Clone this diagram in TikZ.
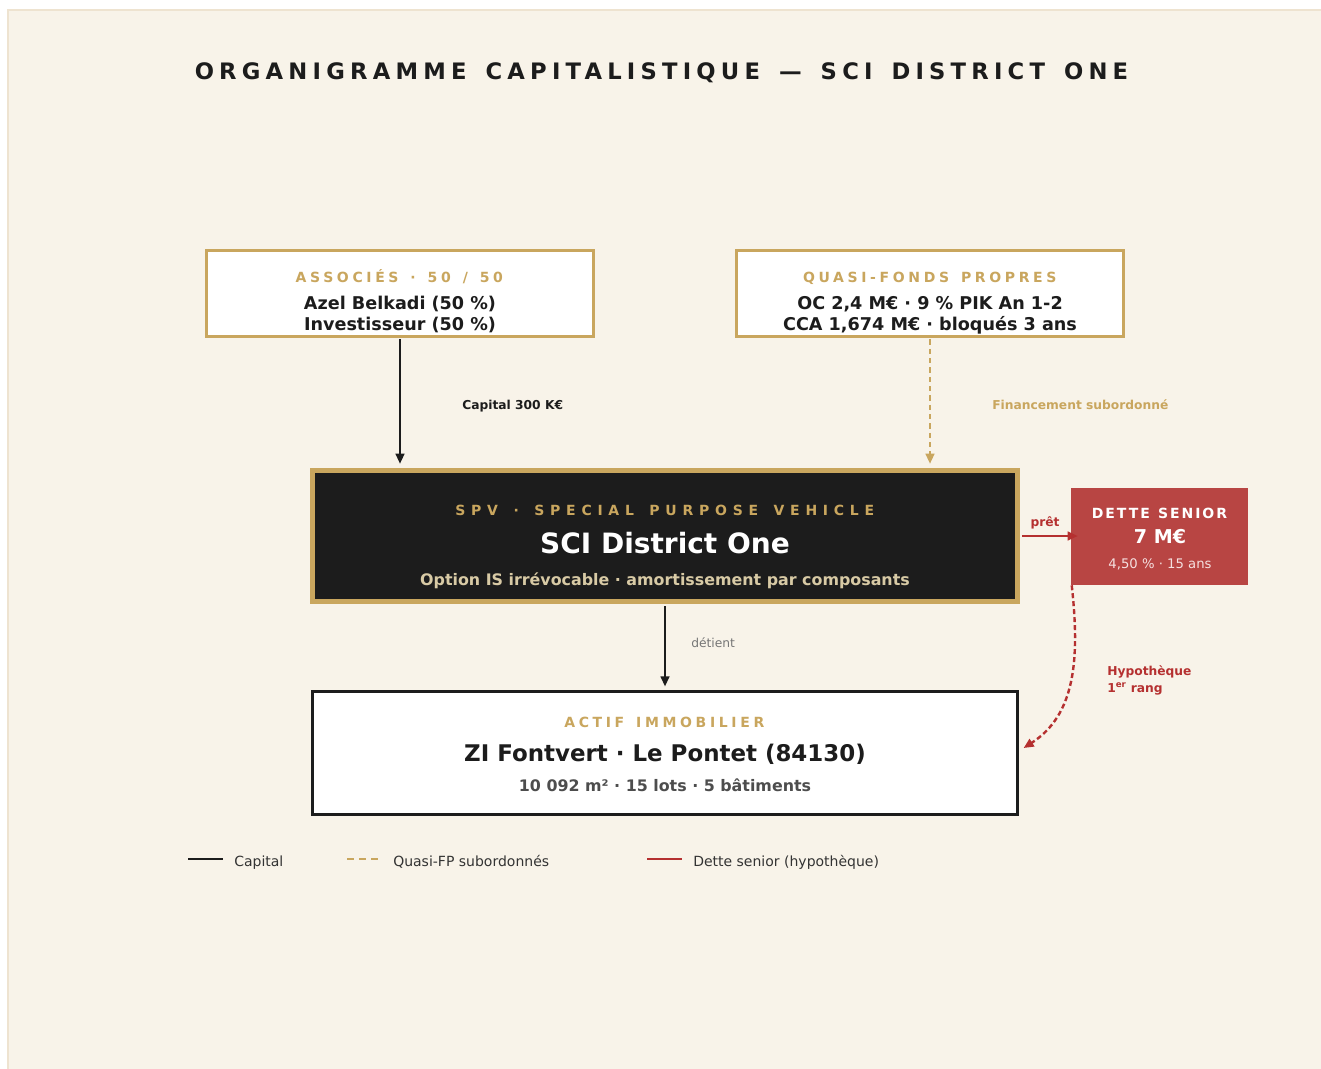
\documentclass[tikz,border=0pt]{standalone}
\usepackage{fontspec}
\setmainfont{DejaVu Sans}
\newfontfamily\titlefont[LetterSpace=23,WordSpace=1.45]{DejaVu Sans}
\newfontfamily\capsfont[LetterSpace=26,WordSpace=1.4]{DejaVu Sans}
\newfontfamily\spvfont[LetterSpace=41,WordSpace=1.46]{DejaVu Sans}
\newfontfamily\debtfont[LetterSpace=14,WordSpace=1.2]{DejaVu Sans}
\usepackage{tikz}
\definecolor{white}{rgb}{1.0, 1.0, 1.0}
\definecolor{ink}{RGB}{28,28,28}
\definecolor{gold}{RGB}{201,166,94}
\definecolor{cream}{RGB}{248,243,233}
\definecolor{creamedge}{RGB}{238,227,208}
\definecolor{debtred}{RGB}{184,69,67}
\definecolor{loanred}{RGB}{181,48,48}
\definecolor{beige}{RGB}{216,202,165}
\definecolor{slate}{RGB}{77,77,77}
\definecolor{mute}{RGB}{118,118,118}
\definecolor{legendink}{RGB}{51,51,51}
\definecolor{debtsoft}{RGB}{245,224,224}
\usetikzlibrary{arrows.meta}
\pgfdeclarelayer{background}
\pgfdeclarelayer{edgelayer}
\pgfdeclarelayer{nodelayer}
\pgfsetlayers{background,nodelayer,edgelayer,main}
\tikzstyle{lightbox}=[rectangle,fill=white,draw=gold,line width=2.25pt,minimum width=290.25pt,minimum height=64.5pt,inner sep=0pt]
\tikzstyle{spvbox}=[rectangle,fill=ink,draw=gold,line width=3.4pt,minimum width=529pt,minimum height=98.6pt,inner sep=0pt]
\tikzstyle{debtbox}=[rectangle,fill=debtred,minimum width=132.75pt,minimum height=72.75pt,inner sep=0pt]
\tikzstyle{assetbox}=[rectangle,fill=white,draw=ink,line width=2.4pt,minimum width=528.75pt,minimum height=92.25pt,inner sep=0pt]
\tikzstyle{txt}=[inner sep=0pt,anchor=base]
\tikzstyle{boxhead}=[txt,text=gold,font=\capsfont\bfseries\fontsize{10.5}{12}\selectfont]
\tikzstyle{boxline}=[txt,text=ink,font=\bfseries\fontsize{13.2}{15}\selectfont]
\tikzstyle{edgelabel}=[inner sep=0pt,anchor=base west,font=\bfseries\fontsize{9.2}{11}\selectfont]
\tikzstyle{legendtext}=[inner sep=0pt,anchor=base west,text=legendink,font=\fontsize{10.5}{12}\selectfont]
\tikzstyle{tip}=[-{Triangle[length=7.5pt,width=6.5pt]}]
\tikzstyle{capital}=[tip,draw=ink,line width=1.5pt]
\tikzstyle{quasi}=[tip,draw=gold,line width=1.5pt,dash pattern=on 4pt off 3pt]
\tikzstyle{loan}=[tip,draw=loanred,line width=1.5pt]
\tikzstyle{mortgage}=[tip,draw=loanred,line width=1.8pt,dash pattern=on 3.75pt off 2.25pt]

\begin{document}
\begin{tikzpicture}[x=0.75pt,y=-0.75pt]
        \useasboundingbox (0,0) rectangle (1321,1068);
        \begin{pgfonlayer}{background}
            \fill [white] (0,0) rectangle (1321,1068);
            \filldraw [fill=cream,draw=creamedge,line width=1.5pt] (8,10) rectangle (1330,1080);
        \end{pgfonlayer}

        \begin{pgfonlayer}{nodelayer}
            \node [txt,text=ink,font=\titlefont\bfseries\fontsize{17}{20}\selectfont] (title) at (661.5,79) {ORGANIGRAMME CAPITALISTIQUE — SCI DISTRICT ONE};

            \node [style = lightbox] (assoc) at (400,293.5) {};
            \node [style = boxhead] (assochead) at (399.3,282) {ASSOCIÉS · 50 / 50};
            \node [style = boxline] (assoc1) at (400,309.5) {Azel Belkadi (50 \%)};
            \node [style = boxline] (assoc2) at (400,330.5) {Investisseur (50 \%)};

            \node [style = lightbox] (quasi) at (930,293.5) {};
            \node [style = boxhead] (quasihead) at (929.8,282) {QUASI-FONDS PROPRES};
            \node [style = boxline] (quasi1) at (930,309.5) {OC 2,4 M€ · 9 \% PIK An 1-2};
            \node [style = boxline] (quasi2) at (930,330.5) {CCA 1,674 M€ · bloqués 3 ans};

            \node [style = spvbox] (spv) at (665,536) {};
            \node [txt,text=gold,font=\spvfont\bfseries\fontsize{10.5}{12}\selectfont] (spvhead) at (664.8,515) {SPV · SPECIAL PURPOSE VEHICLE};
            \node [txt,text=white,font=\bfseries\fontsize{21}{24}\selectfont] (spvname) at (665,553) {SCI District One};
            \node [txt,text=beige,font=\bfseries\fontsize{11.9}{14}\selectfont] (spvnote) at (665,585) {Option IS irrévocable · amortissement par composants};

            \node [style = debtbox] (dette) at (1159.5,536.5) {};
            \node [txt,text=white,font=\debtfont\bfseries\fontsize{10.5}{12}\selectfont] (dettehead) at (1159.5,518) {DETTE SENIOR};
            \node [txt,text=white,font=\bfseries\fontsize{14.3}{16}\selectfont] (detteamt) at (1160,543) {7 M€};
            \node [txt,text=debtsoft,font=\fontsize{9.9}{12}\selectfont] (detterate) at (1160,568) {4,50 \% · 15 ans};

            \node [style = assetbox] (actif) at (665,753) {};
            \node [style = boxhead] (actifhead) at (664.3,727) {ACTIF IMMOBILIER};
            \node [txt,text=ink,font=\bfseries\fontsize{17.2}{20}\selectfont] (actifname) at (665,761.5) {ZI Fontvert · Le Pontet (84130)};
            \node [txt,text=slate,font=\bfseries\fontsize{11.9}{14}\selectfont] (actifinfo) at (665,791) {10 092 m² · 15 lots · 5 bâtiments};

            \node [style = edgelabel,text=ink] (lblcap) at (462,409) {Capital 300 K€};
            \node [style = edgelabel,text=gold] (lblsub) at (992,409) {Financement subordonné};
            \node [style = edgelabel,anchor=base,text=loanred] (lblloan) at (1045,526) {prêt};
            \node [style = edgelabel,text=mute,font=\fontsize{9.2}{11}\selectfont] (lblhold) at (691,647) {détient};
            \node [style = edgelabel,text=loanred] (lblhyp1) at (1107,675) {Hypothèque};
            \node [style = edgelabel,text=loanred] (lblhyp2) at (1107,692.5) {1\textsuperscript{er} rang};

            \node [style = legendtext] (legcap) at (234,866) {Capital};
            \node [style = legendtext] (legquasi) at (393,866) {Quasi-FP subordonnés};
            \node [style = legendtext] (legdebt) at (693,866) {Dette senior (hypothèque)};
        \end{pgfonlayer}

        \begin{pgfonlayer}{edgelayer}
            \draw [style = capital,shorten <=1.1pt,shorten >=3.2pt] (assoc.south) to (assoc.south |- spv.north);
            \draw [style = quasi,shorten <=1.1pt,shorten >=3.2pt] (quasi.south) to (quasi.south |- spv.north);
            \draw [style = loan,shorten <=1.7pt,shorten >=-5.25pt] (spv.east) to (spv.east -| dette.west);
            \draw [style = capital,shorten <=1.7pt,shorten >=2.6pt] (spv.south) to (actif.north);
            \draw [style = mortgage] ([xshift=0.75pt]dette.south west) .. controls (1080,660) and (1075,715) .. ([shift={(3.4pt,3.75pt)}]actif.east);

            % legend samples
            \draw [draw=ink,line width=1.9pt] ([xshift=-34.5pt,yshift=5.25pt]legcap.base west) -- ([xshift=-8.25pt,yshift=5.25pt]legcap.base west);
            \draw [draw=gold,line width=1.9pt,dash pattern=on 5.25pt off 3.75pt] ([xshift=-34.5pt,yshift=5.25pt]legquasi.base west) -- ([xshift=-9.75pt,yshift=5.25pt]legquasi.base west);
            \draw [draw=loanred,line width=1.9pt] ([xshift=-34.5pt,yshift=5.25pt]legdebt.base west) -- ([xshift=-8.25pt,yshift=5.25pt]legdebt.base west);
        \end{pgfonlayer}
    \end{tikzpicture}
\end{document}
